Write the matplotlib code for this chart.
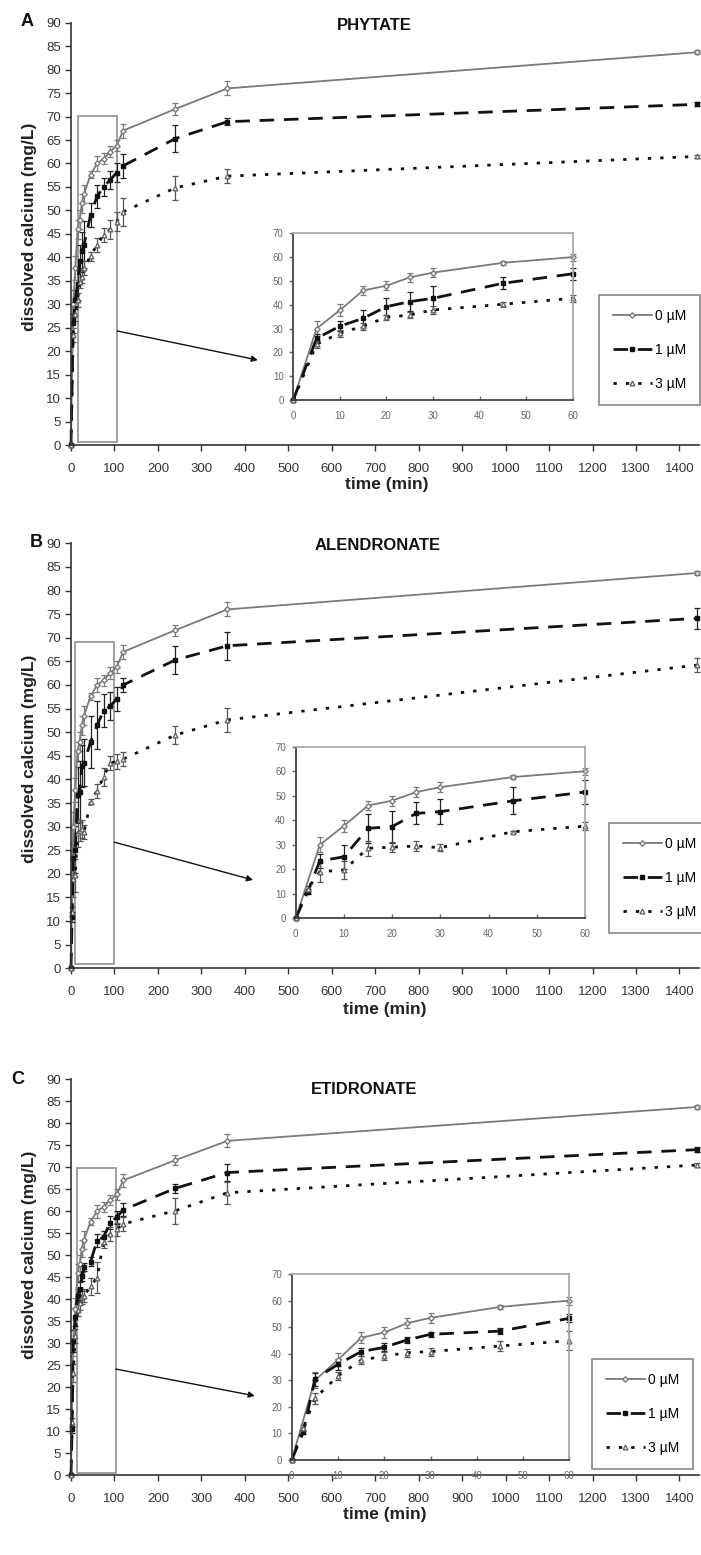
import matplotlib
matplotlib.use('Agg')
import matplotlib.pyplot as plt
from matplotlib.patches import Rectangle
from matplotlib.lines import Line2D

plt.rcParams['font.family'] = ['Liberation Sans', 'DejaVu Sans']
plt.rcParams['lines.scale_dashes'] = False

# ---------------- data ----------------
T = [0, 5, 10, 15, 20, 25, 30, 45, 60, 75, 90, 105, 120, 240, 360, 1440]
T_EXT = [0, 2.5, 5, 10, 15, 20, 25, 30, 45, 60, 75, 90, 105, 120, 240, 360, 1440]
LABELS = ['0 \u00b5M', '1 \u00b5M', '3 \u00b5M']
TITLES = ['PHYTATE', 'ALENDRONATE', 'ETIDRONATE']
PANEL_LETTERS = ['A', 'B', 'C']

CTRL_0UM = [0, 30, 37.7, 46, 48, 51.5, 53.5, 57.6, 60, 61, 62.5, 63.8, 67, 71.6, 76, 83.7]
CTRL_0UM_ERR = [0, 3, 2.5, 2, 2, 2, 2, 0.8, 1.5, 1.2, 1.2, 1.2, 1.5, 1.2, 1.5, 0.4]

PHY_1UM = [0, 25.9, 31, 34.3, 39.2, 41.3, 42.7, 49, 53, 55, 56.5, 58, 59.5, 65.3, 68.9, 72.6]
PHY_1UM_ERR = [0, 2, 2, 3.5, 3.5, 4, 5, 2.5, 2.5, 2, 2, 2, 2.5, 2.8, 0.8, 0.4]
PHY_3UM = [0, 23.5, 28, 31, 34.7, 35.7, 37.8, 40.2, 42.7, 44.8, 46, 47.6, 49.7, 54.8, 57.3, 61.5]
PHY_3UM_ERR = [0, 1.5, 1.5, 1.5, 1.2, 1.2, 1.5, 1, 1.5, 1.5, 2, 2, 3, 2.5, 1.5, 0.4]

ALE_1UM = [0, 10.9, 23.4, 25.1, 36.7, 37.4, 42.8, 43.5, 47.9, 51.5, 54.5, 55.5, 57, 60, 65.3, 68.3, 74.1]
ALE_1UM_ERR = [0, 1, 3, 5, 6, 6.5, 4.5, 5, 5.5, 5, 3.5, 3, 2.5, 1.5, 3, 3, 2.3]
ALE_3UM = [0, 12, 19, 19.7, 28.6, 29, 29.5, 28.8, 35.3, 37.6, 40.5, 43.5, 43.8, 44.3, 49.4, 52.6, 64.2]
ALE_3UM_ERR = [0, 1, 4, 3.5, 3, 2, 2, 1.5, 0.5, 1.5, 2, 1.5, 1.5, 1.5, 2, 2.5, 1.5]

ETI_1UM = [0, 10.4, 30.4, 36, 40.8, 42.4, 45.2, 47.3, 48.5, 53.3, 54.1, 57.4, 58.6, 60.3, 65.2, 68.8, 74]
ETI_1UM_ERR = [0, 0.8, 2.5, 2, 1.5, 1.5, 1, 1, 1, 1.5, 1.5, 1.5, 1.5, 1.5, 1, 2, 0.5]
ETI_3UM = [0, 12, 23.2, 31.6, 37.6, 39.1, 40.4, 40.8, 42.9, 44.9, 53.1, 54.8, 55.9, 57.1, 60.1, 64.2, 70.5]
ETI_3UM_ERR = [0, 1, 2, 1.5, 1.5, 1.5, 1.5, 1.5, 2, 3.5, 1.5, 1.5, 1.5, 1.5, 3, 2.5, 0.5]

PANEL_DATA = [
    [(T, CTRL_0UM, CTRL_0UM_ERR), (T, PHY_1UM, PHY_1UM_ERR), (T, PHY_3UM, PHY_3UM_ERR)],
    [(T, CTRL_0UM, CTRL_0UM_ERR), (T_EXT, ALE_1UM, ALE_1UM_ERR), (T_EXT, ALE_3UM, ALE_3UM_ERR)],
    [(T, CTRL_0UM, CTRL_0UM_ERR), (T_EXT, ETI_1UM, ETI_1UM_ERR), (T_EXT, ETI_3UM, ETI_3UM_ERR)],
]

# ---------------- styles ----------------
STYLES = [
    dict(color='#7a7a7a', linewidth=1.3, linestyle='-', marker='D', markersize=2.8,
         markerfacecolor='white', markeredgecolor='#7a7a7a', ecolor='#7a7a7a'),
    dict(color='#111111', linewidth=2.0, linestyle=(0, (10.5, 7.0)), marker='s', markersize=3.2,
         markerfacecolor='#111111', markeredgecolor='#111111', ecolor='#222222'),
    dict(color='#111111', linewidth=2.0, linestyle=(0, (2.4, 6.5)), marker='^', markersize=3.4,
         markerfacecolor='white', markeredgecolor='#666666', ecolor='#555555'),
]

W, H = 701, 1555
fig = plt.figure(figsize=(W / 100, H / 100), dpi=100)


def box(l, t, r, b):
    return [l / W, 1 - b / H, (r - l) / W, (b - t) / H]


LAYOUT = [
    dict(main=(71, 22.7, 699, 445), inset=(293.3, 233.3, 572.7, 400), legend=(599, 295),
         rect=(17, 0.7, 106.5, 70.2), arrow=((106.5, 24.3), (430, 18.1)),
         title=(374, 25), letter=(27, 22), ylab=(30, 227), xlab=(387, 485)),
    dict(main=(71, 543.3, 699, 968.3), inset=(295.7, 746.7, 585, 918.3), legend=(609, 823),
         rect=(9, 0.85, 100, 69.2), arrow=((100, 26.7), (419, 18.7)),
         title=(378, 545), letter=(36, 543), ylab=(30, 759), xlab=(385, 1010)),
    dict(main=(71, 1079.3, 699, 1475), inset=(291.7, 1274, 569.3, 1460), legend=(592, 1359),
         rect=(13, 0.5, 103, 69.9), arrow=((103, 24.1), (423, 18.0)),
         title=(364, 1090), letter=(18, 1080), ylab=(30, 1255), xlab=(385, 1515)),
]


def plot_series(ax, data, inset=False):
    for (t, v, e), st in zip(data, STYLES):
        if inset:
            keep = [i for i, x in enumerate(t) if x <= 60]
            t = [t[i] for i in keep]
            v = [v[i] for i in keep]
            e = [e[i] for i in keep]
        ax.errorbar(t, v, yerr=e, elinewidth=0.9, capsize=2, capthick=0.9,
                    clip_on=False, **st)


for p in range(3):
    lay = LAYOUT[p]
    ax = fig.add_axes(box(*lay['main']))
    plot_series(ax, PANEL_DATA[p])
    ax.set_xlim(0, 1445)
    ax.set_ylim(0, 90)
    ax.set_xticks(range(0, 1401, 100))
    ax.set_yticks(range(0, 91, 5))
    for s in ['top', 'right']:
        ax.spines[s].set_visible(False)
    for s in ['left', 'bottom']:
        ax.spines[s].set_color('#333333')
        ax.spines[s].set_linewidth(1.2)
    ax.tick_params(axis='both', colors='#333333', length=4, width=1, labelsize=9.5)
    ax.tick_params(axis='x', pad=9)
    ax.tick_params(axis='y', pad=3)
    for lbl in ax.get_xticklabels() + ax.get_yticklabels():
        lbl.set_color('#333333')

    r = lay['rect']
    ax.add_patch(Rectangle((r[0], r[1]), r[2] - r[0], r[3] - r[1], fill=False,
                           edgecolor='#999999', linewidth=1.3, zorder=0.5))
    a0, a1 = lay['arrow']
    ax.annotate('', xy=a1, xytext=a0,
                arrowprops=dict(arrowstyle='-|>', color='#111111', lw=1.0,
                                mutation_scale=9, shrinkA=0, shrinkB=0))

    fig.text(lay['title'][0] / W, 1 - lay['title'][1] / H, TITLES[p], fontsize=12,
             fontweight='bold', ha='center', va='center', color='#111111')
    fig.text(lay['letter'][0] / W, 1 - lay['letter'][1] / H, PANEL_LETTERS[p], fontsize=13,
             fontweight='bold', ha='center', va='center', color='#111111')
    fig.text(lay['ylab'][0] / W, 1 - lay['ylab'][1] / H, 'dissolved calcium (mg/L)', fontsize=12.5,
             fontweight='bold', ha='center', va='center', rotation=90, color='#222222')
    fig.text(lay['xlab'][0] / W, 1 - lay['xlab'][1] / H, 'time (min)', fontsize=12.5,
             fontweight='bold', ha='center', va='center', color='#222222')

    # inset
    ia = fig.add_axes(box(*lay['inset']))
    plot_series(ia, PANEL_DATA[p], inset=True)
    ia.set_xlim(0, 60)
    ia.set_ylim(0, 70)
    ia.set_xticks(range(0, 61, 10))
    ia.set_yticks(range(0, 71, 10))
    for s in ['top', 'right']:
        ia.spines[s].set_color('#aaaaaa')
        ia.spines[s].set_linewidth(1.3)
    for s in ['left', 'bottom']:
        ia.spines[s].set_color('#444444')
        ia.spines[s].set_linewidth(1.3)
    ia.tick_params(axis='both', colors='#666666', labelsize=7, width=1)
    ia.tick_params(axis='x', direction='in', length=3, pad=8)
    ia.tick_params(axis='y', direction='out', length=3, pad=4)

    handles = [Line2D([], [], color=st['color'], linewidth=st['linewidth'],
                      linestyle=st['linestyle'], marker=st['marker'],
                      markersize=st['markersize'], markerfacecolor=st['markerfacecolor'],
                      markeredgecolor=st['markeredgecolor']) for st in STYLES]
    lx, ly = lay['legend']
    leg = fig.legend(handles, LABELS, loc='upper left',
                     bbox_to_anchor=(lx / W, 1 - ly / H), bbox_transform=fig.transFigure,
                     borderaxespad=0, fontsize=10, handlelength=2.8, handletextpad=0.2,
                     borderpad=1.0, labelspacing=1.45, fancybox=False, framealpha=1,
                     edgecolor='#888888')
    leg.get_frame().set_linewidth(1.2)

fig.savefig('out.png', dpi=100, facecolor='white')
